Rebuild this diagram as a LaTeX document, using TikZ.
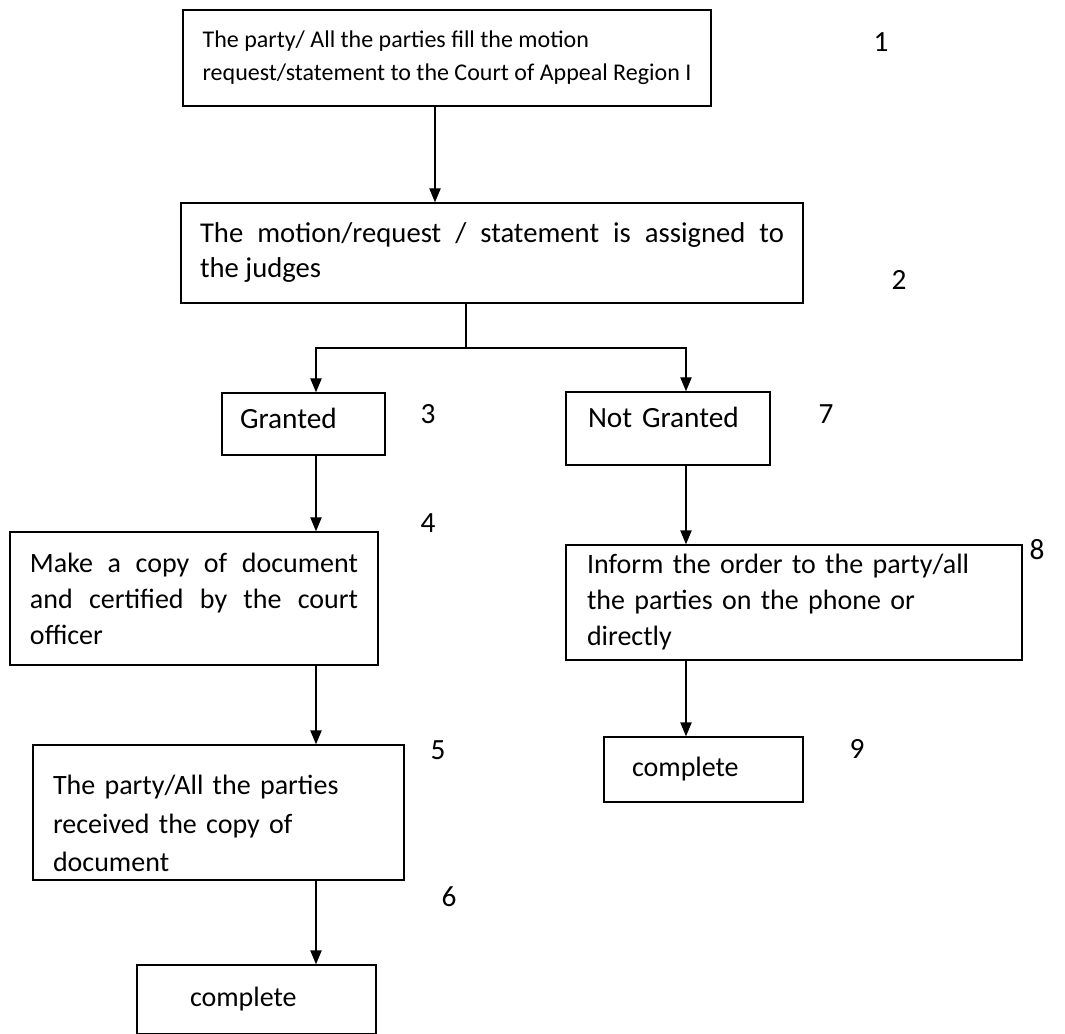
\documentclass[tikz,border=0pt]{standalone}
\usepackage{fontspec}
\setmainfont{Carlito}
\usetikzlibrary{arrows.meta}

\tikzset{
  stepbox/.style={draw, line width=1.1pt, inner ysep=0pt, align=left},
  numlabel/.style={font=\fontsize{22}{24}\selectfont, inner sep=0pt},
  arr/.style={-{Triangle[length=10.5pt,width=8.5pt]}, line width=1.1pt},
  link/.style={line width=1.1pt}
}

\begin{document}
\begin{tikzpicture}[x=0.75pt, y=-0.75pt]
  \useasboundingbox (0,0) rectangle (1065,1034);

  \node[stepbox, inner xsep=0pt, minimum width=396pt, minimum height=72pt,
        font=\fontsize{18}{24.75}\selectfont] at (447,58) (fill)
    {The party/ All the parties fill the motion\\ request/statement to the Court of Appeal Region I};
  \node[stepbox, inner xsep=14.25pt, text width=438pt, minimum height=75pt, align=justify,
        font=\fontsize{21.5}{26.25}\selectfont] at (492,253) (assign)
    {The motion/request / statement is assigned to\linebreak the judges};

  \node[stepbox, inner xsep=13.5pt, text width=95.25pt, minimum height=46.5pt,
        font=\fontsize{22}{26}\selectfont] at (303.5,424) (granted)
    {Granted\rule[-9pt]{0pt}{9pt}};
  \node[stepbox, inner xsep=16.5pt, text width=120pt, minimum height=54.75pt,
        font=\fontsize{22}{26}\selectfont] at (668,428.5) (notgranted)
    {Not Granted\rule[-17pt]{0pt}{17pt}};

  \node[stepbox, inner xsep=15pt, text width=246pt, minimum height=99.75pt, align=justify,
        font=\fontsize{21}{27}\selectfont] at (194,598.5) (copy)
    {Make a copy of document\linebreak and certified by the court\linebreak officer};
  \node[stepbox, inner xsep=15.75pt, text width=310.5pt, minimum height=86.25pt,
        font=\fontsize{21}{27}\selectfont] at (794,602.5) (inform)
    {Inform the order to the party/all\\ the parties on the phone or\\ directly};

  \node[stepbox, inner xsep=15pt, text width=248.25pt, minimum height=101.25pt,
        font=\fontsize{21}{29}\selectfont] at (218.5,812.5) (received)
    {\rule{0pt}{31pt}The party/All the parties\\ received the copy of\\ document};
  \node[stepbox, inner xsep=21pt, text width=107.25pt, minimum height=48.75pt,
        font=\fontsize{21}{27}\selectfont] at (703.5,769.5) (done-right) {complete};
  \node[stepbox, inner xsep=39.75pt, text width=99.75pt, minimum height=51.75pt,
        font=\fontsize{21}{27}\selectfont] at (256.5,999.5) (done-left) {complete};

  % step numbers
  \node[numlabel] at (881,42) (n1) {1};
  \node[numlabel] at (899,280) (n2) {2};
  \node[numlabel] at (428,414) (n3) {3};
  \node[numlabel] at (428,523) (n4) {4};
  \node[numlabel] at (438,750) (n5) {5};
  \node[numlabel] at (449,897) (n6) {6};
  \node[numlabel] at (826,414) (n7) {7};
  \node[numlabel] at (1037,550) (n8) {8};
  \node[numlabel] at (857,749) (n9) {9};

  % columns of the connectors
  \coordinate (mcol) at (435,0);
  \coordinate (lcol) at (316,0);
  \coordinate (rcol) at (686,0);
  \coordinate (split) at (466,348);

  \draw[arr] (fill.south -| mcol) -- (assign.north -| mcol);
  \draw[link] (assign.south -| split) -- (split);
  \draw[arr] (split) -| (granted.north -| lcol);
  \draw[arr] (split) -| (notgranted.north -| rcol);

  \draw[arr] (granted.south -| lcol) -- (copy.north -| lcol);
  \draw[arr] (copy.south -| lcol) -- (received.north -| lcol);
  \draw[arr] (received.south -| lcol) -- (done-left.north -| lcol);

  \draw[arr] (notgranted.south -| rcol) -- (inform.north -| rcol);
  \draw[arr] (inform.south -| rcol) -- (done-right.north -| rcol);
\end{tikzpicture}
\end{document}
